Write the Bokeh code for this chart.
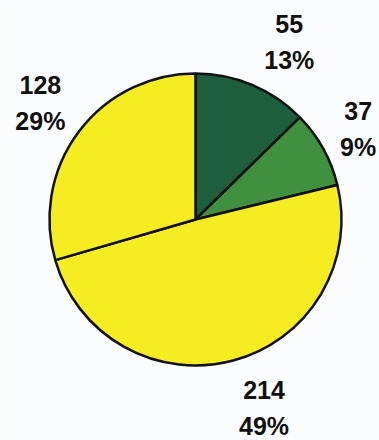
import math
from bokeh.plotting import figure
from bokeh.models import Range1d, ColumnDataSource
from bokeh.core.properties import value
from bokeh.embed import file_html
from bokeh.resources import INLINE

# ---- data ----
values = [55, 37, 214, 128]
colors = ["#1d5e3c", "#3f9140", "#f6ec22", "#f6ec22"]

# ---- layout ----
W, H = 379, 440
CX, CY = 195, 440 - 219   # pie centre (data units = pixels)
R = 146
label_radius = [201, 186, 201, 194]
label_nudge_deg = [5, 0, -5, 0]
FONT = "Liberation Sans"

total = sum(values)
starts, ends, pct = [], [], []
cum = 0.0
for v in values:
    a0 = cum / total * 2 * math.pi
    cum += v
    a1 = cum / total * 2 * math.pi
    starts.append(math.pi / 2 - a0)
    ends.append(math.pi / 2 - a1)
    pct.append(f"{round(v / total * 100)}%")

lx, ly = [], []
for i in range(len(values)):
    mid = (math.pi / 2 - starts[i] + math.pi / 2 - ends[i]) / 2 + math.radians(label_nudge_deg[i])
    lx.append(CX + label_radius[i] * math.sin(mid))
    ly.append(CY + label_radius[i] * math.cos(mid))

p = figure(width=W, height=H, output_backend="svg", toolbar_location=None,
           x_range=Range1d(0, W), y_range=Range1d(0, H), min_border=0)
p.axis.visible = False
p.grid.visible = False
p.outline_line_color = None
p.background_fill_color = "#fbfcfd"
p.border_fill_color = "#fbfcfd"

src = ColumnDataSource(dict(x=[CX] * len(values), y=[CY] * len(values),
                            start=starts, end=ends, color=colors))
p.wedge(x="x", y="y", radius=R, start_angle="start", end_angle="end",
        direction="clock", fill_color="color", line_color="#111111",
        line_width=2.5, source=src)

lsrc = ColumnDataSource(dict(x=lx, y1=[y + 18 for y in ly], y2=[y - 18 for y in ly],
                             v=[str(v) for v in values], pct=pct))
for col, ycol in (("v", "y1"), ("pct", "y2")):
    p.text(x="x", y=ycol, text=col, source=lsrc, text_font=value(FONT),
           text_font_style="bold", text_font_size="25px", text_color="#111111",
           text_align="center", text_baseline="middle")

open("out.html", "w").write(file_html(p, INLINE))
